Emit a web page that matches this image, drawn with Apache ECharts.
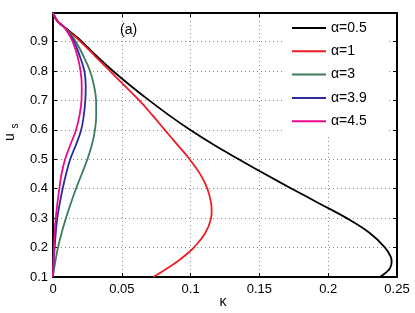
<!DOCTYPE html>
<html>
<head>
<meta charset="utf-8">
<script src="https://cdn.jsdelivr.net/npm/echarts@6/dist/echarts.min.js"></script>
<style>html,body{margin:0;padding:0;background:#fff}#c{width:415px;height:313px}</style>
</head>
<body>
<div id="c"></div>
<script>
var seriesNames = ['α=0.5', 'α=1', 'α=3', 'α=3.9', 'α=4.5'];
var seriesColors = ['#000000', '#ed1c24', '#3d7d5c', '#2b2b9c', '#ec0a8c'];

var kappa05 = [0, 0.0005, 0.0017, 0.004, 0.0077, 0.012, 0.021, 0.0318, 0.0436, 0.0564, 0.0699, 0.0842, 0.0996, 0.1165, 0.135, 0.154, 0.1735, 0.1935, 0.2134, 0.2304, 0.2413, 0.2454, 0.2461, 0.2449, 0.2413, 0.2376];
var u05     = [0.997, 0.993, 0.98, 0.965, 0.951, 0.935, 0.9, 0.85, 0.8, 0.75, 0.7, 0.65, 0.6, 0.55, 0.5, 0.45, 0.4, 0.35, 0.3, 0.2486, 0.2, 0.169, 0.152, 0.1295, 0.1126, 0.1];

var kappa1 = [0, 0.0005, 0.0017, 0.004, 0.0077, 0.012, 0.020, 0.0307, 0.0413, 0.052, 0.0627, 0.0722, 0.0812, 0.0894, 0.0993, 0.1073, 0.1122, 0.1149, 0.1153, 0.1149, 0.1106, 0.1025, 0.0964, 0.0899, 0.0812, 0.0729];
var u1     = [0.997, 0.993, 0.98, 0.965, 0.951, 0.933, 0.9, 0.85, 0.8, 0.75, 0.7, 0.65, 0.6, 0.5548, 0.5, 0.447, 0.4, 0.3507, 0.322, 0.3, 0.2486, 0.201, 0.1748, 0.151, 0.1238, 0.1];

var kappa3 = [0, 0.0005, 0.0017, 0.004, 0.0077, 0.011, 0.0165, 0.0222, 0.0269, 0.0298, 0.0313, 0.0314, 0.0305, 0.0283, 0.025, 0.0209, 0.0167, 0.0129, 0.0094, 0.0063, 0.0036, 0.0016, 0.0005, 0];
var u3     = [0.997, 0.993, 0.98, 0.965, 0.951, 0.935, 0.9, 0.85, 0.8, 0.75, 0.7, 0.65, 0.6, 0.55, 0.5, 0.45, 0.4, 0.35, 0.3, 0.25, 0.2, 0.15, 0.12, 0.1];

var kappa39 = [0, 0.0005, 0.0017, 0.004, 0.0077, 0.0105, 0.0153, 0.0195, 0.0228, 0.0238, 0.0235, 0.0224, 0.0205, 0.0168, 0.0125, 0.0095, 0.007, 0.0049, 0.0031, 0.002, 0.0012, 0.0005, 0];
var u39     = [0.997, 0.993, 0.98, 0.965, 0.951, 0.935, 0.9, 0.85, 0.8, 0.75, 0.7, 0.65, 0.6, 0.55, 0.5, 0.45, 0.4, 0.35, 0.3, 0.25, 0.2, 0.15, 0.1];

var kappa45 = [0, 0.0005, 0.0017, 0.004, 0.0077, 0.0102, 0.0143, 0.0178, 0.020, 0.0209, 0.0207, 0.0193, 0.0168, 0.0127, 0.0088, 0.0062, 0.0046, 0.0032, 0.002, 0.0012, 0.0007, 0.0003, 0];
var u45     = [0.997, 0.993, 0.98, 0.965, 0.951, 0.935, 0.9, 0.85, 0.8, 0.75, 0.7, 0.65, 0.6, 0.55, 0.5, 0.45, 0.4, 0.35, 0.3, 0.25, 0.2, 0.15, 0.1];

var xTicks = { min: 0, max: 0.25, interval: 0.05 };
var yTicks = { min: 0.1, max: 0.997, interval: 0.1 };

function pairs(xs, ys) { return xs.map(function (x, i) { return [x, ys[i]]; }); }
var allX = [kappa05, kappa1, kappa3, kappa39, kappa45];
var allY = [u05, u1, u3, u39, u45];

var FONT = 'Liberation Sans, Arial, Helvetica, sans-serif';
var chart = echarts.init(document.getElementById('c'), null, { renderer: 'canvas' });

var gridLine = { show: true, lineStyle: { color: '#8a8a8a', width: 1, type: [1, 3] } };
var frameLine = { show: true, onZero: false, lineStyle: { color: '#000', width: 2 } };
var tickIn = { show: true, inside: true, length: 4, lineStyle: { color: '#000', width: 1 } };

var series = seriesNames.map(function (n, i) {
  return {
    name: n, type: 'line', data: pairs(allX[i], allY[i]),
    showSymbol: false, symbol: 'none', smooth: 0.4,
    lineStyle: { color: seriesColors[i], width: 1.8 },
    itemStyle: { color: seriesColors[i] },
    xAxisIndex: 0, yAxisIndex: 0, z: 3
  };
});

chart.setOption({
  animation: false,
  backgroundColor: '#fff',
  grid: { left: 53, top: 13, right: 18, bottom: 36, containLabel: false },
  xAxis: [
    { type: 'value', position: 'bottom', min: xTicks.min, max: xTicks.max, interval: xTicks.interval,
      axisLine: frameLine, axisTick: tickIn, splitLine: gridLine,
      axisLabel: { color: '#000', fontSize: 13, fontFamily: FONT, margin: 6 } },
    { type: 'value', position: 'top', min: xTicks.min, max: xTicks.max, interval: xTicks.interval,
      axisLine: frameLine, axisTick: tickIn, splitLine: { show: false }, axisLabel: { show: false } }
  ],
  yAxis: [
    { type: 'value', position: 'left', min: yTicks.min, max: yTicks.max, interval: yTicks.interval,
      axisLine: frameLine, axisTick: tickIn, splitLine: gridLine,
      axisLabel: { color: '#000', fontSize: 13, fontFamily: FONT, margin: 5, showMaxLabel: false,
        formatter: function (v) { return (Math.round(v * 10) / 10).toString(); } } },
    { type: 'value', position: 'right', min: yTicks.min, max: yTicks.max, interval: yTicks.interval,
      axisLine: frameLine, axisTick: tickIn, splitLine: { show: false }, axisLabel: { show: false } }
  ],
  legend: {
    orient: 'vertical', left: 284, top: 14,
    padding: [6, 20, 6, 8], itemGap: 7.3,
    itemWidth: 34, itemHeight: 2, icon: 'rect',
    backgroundColor: '#fff', borderWidth: 0,
    data: seriesNames,
    textStyle: { color: '#000', fontSize: 14, fontFamily: FONT, lineHeight: 16 },
    z: 5
  },
  graphic: [
    { type: 'text', x: 120, y: 23, z: 10,
      style: { text: '(a)', fill: '#000', font: '14px ' + FONT, textVerticalAlign: 'top' } },
    { type: 'text', x: 10, y: 137, rotation: Math.PI / 2, z: 10,
      style: { text: 'u', fill: '#000', font: '14px ' + FONT, align: 'center', verticalAlign: 'middle' } },
    { type: 'text', x: 15, y: 126, rotation: Math.PI / 2, z: 10,
      style: { text: 's', fill: '#000', font: '10px ' + FONT, align: 'center', verticalAlign: 'middle' } },
    { type: 'text', x: 223, y: 302, z: 10,
      style: { text: 'κ', fill: '#000', font: '14px ' + FONT, align: 'center', verticalAlign: 'middle' } }
  ],
  series: series
});
</script>
</body>
</html>
